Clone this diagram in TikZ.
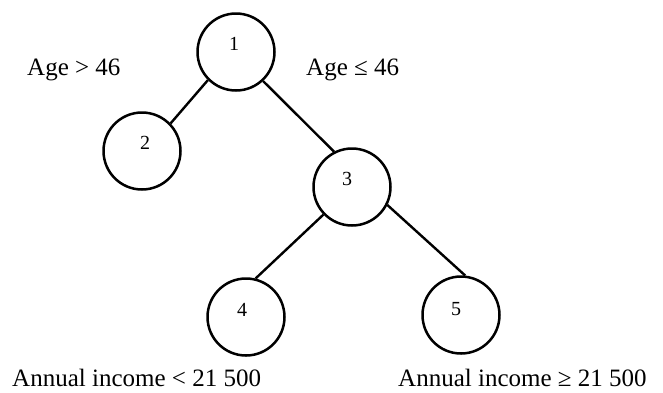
\documentclass[tikz,border=0pt]{standalone}
\usepackage{fontspec}
\setmainfont{Liberation Serif}
\begin{document}
\begin{tikzpicture}[x=1pt,y=-1pt,
  treenode/.style={circle,draw,line width=2.5pt,minimum size=77pt,inner sep=0pt},
  digit/.style={inner sep=0pt,font=\fontsize{20}{24}\selectfont},
  cond/.style={inner sep=0pt,anchor=base west,font=\fontsize{25}{30}\selectfont},
  branch/.style={line width=2.4pt}]
\useasboundingbox (0,0) rectangle (663,392);

% tree nodes
\node[treenode] (n1) at (236,52) {};
\node[treenode] (n2) at (142,151) {};
\node[treenode] (n3) at (352,187) {};
\node[treenode] (n4) at (246,317) {};
\node[treenode] (n5) at (461,315) {};

% node numbers, set a little above centre
\node[digit,xshift=-2pt,yshift=8.5pt] (d1) at (n1) {1};
\node[digit,xshift=3pt,yshift=8pt] (d2) at (n2) {2};
\node[digit,xshift=-5pt,yshift=8pt] (d3) at (n3) {3};
\node[digit,xshift=-4pt,yshift=7pt] (d4) at (n4) {4};
\node[digit,xshift=-5pt,yshift=6pt] (d5) at (n5) {5};

% branches
\draw[branch] (n1.225) -- (n2.44);
\draw[branch] (n1.313) -- (n3.117);
\draw[branch] (n3.224) -- (n4.76);
\draw[branch] (n3.333) -- (n5.84);

% split conditions
\node[cond] (c1) at (27,75) {Age > 46};
\node[cond] (c2) at (306,75) {Age ≤ 46};
\node[cond] (c3) at (12,386) {Annual income < 21 500};
\node[cond] (c4) at (398,386) {Annual income ≥ 21 500};
\end{tikzpicture}
\end{document}
